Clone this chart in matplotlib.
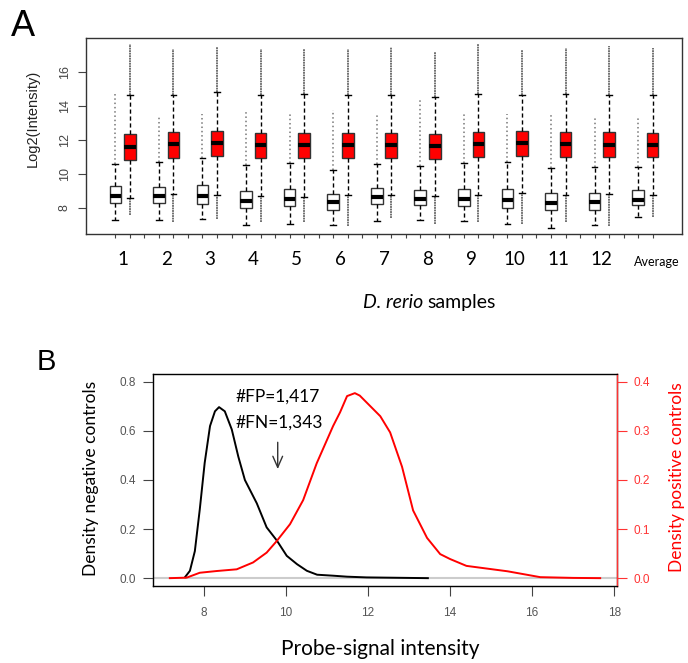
import numpy as np
import matplotlib.pyplot as plt
from matplotlib import transforms

# Panel A: box plot stats (log2 intensity)
samples = ['1', '2', '3', '4', '5', '6', '7', '8', '9', '10', '11', '12', 'Average']

neg_med = [8.71, 8.71, 8.71, 8.43, 8.55, 8.35, 8.65, 8.55, 8.55, 8.49, 8.29, 8.35, 8.49]
neg_q1 = [8.31, 8.27, 8.25, 8.00, 8.10, 7.86, 8.25, 8.16, 8.10, 8.02, 7.86, 7.86, 8.16]
neg_q3 = [9.27, 9.24, 9.37, 8.98, 9.10, 8.84, 9.20, 9.08, 9.14, 9.14, 8.88, 8.88, 9.04]
neg_lo = [7.27, 7.27, 7.37, 7.02, 7.08, 7.02, 7.22, 7.27, 7.22, 7.08, 6.84, 7.02, 7.47]
neg_hi = [10.60, 10.70, 10.96, 10.51, 10.67, 10.22, 10.61, 10.47, 10.67, 10.71, 10.35, 10.41, 10.41]
neg_max = [14.76, 13.40, 13.55, 13.69, 13.59, 13.78, 13.45, 14.39, 13.61, 13.55, 13.51, 13.31, 13.31]

pos_med = [11.59, 11.75, 11.82, 11.73, 11.73, 11.73, 11.73, 11.65, 11.75, 11.82, 11.75, 11.73, 11.73]
pos_q1 = [10.80, 10.96, 11.06, 10.94, 10.94, 10.94, 10.94, 10.86, 11.00, 11.06, 11.00, 11.00, 11.00]
pos_q3 = [12.33, 12.45, 12.51, 12.41, 12.41, 12.41, 12.41, 12.33, 12.45, 12.51, 12.45, 12.45, 12.41]
pos_lo = [8.59, 8.82, 8.78, 8.69, 8.65, 8.75, 8.78, 8.71, 8.78, 8.90, 8.78, 8.84, 8.78]
pos_hi = [14.63, 14.63, 14.82, 14.63, 14.69, 14.63, 14.63, 14.53, 14.69, 14.63, 14.69, 14.63, 14.63]
pos_max = [17.67, 17.37, 17.47, 17.33, 17.37, 17.33, 17.47, 17.18, 17.63, 17.27, 17.43, 17.51, 17.43]
pos_min = [7.57, 7.18, 7.37, 7.18, 7.18, 6.92, 7.43, 7.08, 7.18, 7.08, 7.18, 6.92, 7.47]

# Panel B: density curves
neg_x = [7.54, 7.66, 7.78, 7.90, 8.02, 8.15, 8.27, 8.37, 8.51, 8.68, 8.84, 9.00, 9.29, 9.53,
         9.78, 10.02, 10.27, 10.51, 10.76, 11.15, 11.49, 11.97, 13.46]
neg_y = [0.004, 0.03, 0.11, 0.28, 0.47, 0.62, 0.68, 0.697, 0.68, 0.606, 0.495, 0.40, 0.305, 0.207,
         0.153, 0.091, 0.057, 0.03, 0.014, 0.01, 0.006, 0.003, 0.0]

pos_x = [7.17, 7.58, 7.90, 8.31, 8.80, 9.20, 9.53, 9.77, 10.10, 10.42, 10.75, 11.15, 11.32, 11.49,
         11.68, 11.80, 12.30, 12.54, 12.83, 13.10, 13.44, 13.76, 14.00, 14.40, 15.40, 16.20, 17.00, 17.66]
pos_y = [0.0, 0.001, 0.011, 0.0145, 0.018, 0.032, 0.052, 0.075, 0.11, 0.159, 0.234, 0.31, 0.338, 0.371,
         0.377, 0.372, 0.33, 0.297, 0.227, 0.138, 0.082, 0.049, 0.039, 0.025, 0.014, 0.002, 0.0005, 0.0]

W, H = 688, 663
LABEL_FONT = ['Lato', 'DejaVu Sans']
TICK_FONT = ['Liberation Sans', 'DejaVu Sans']


def fx(px):
    return px / W


def fy(py):
    return 1 - py / H


fig = plt.figure(figsize=(W / 100, H / 100), dpi=100)

# ---------------- Panel A ----------------
axA = fig.add_axes([fx(86), fy(234), fx(682) - fx(86), fy(38) - fy(234)])
neg_pos = [3 * i + 1 for i in range(len(samples))]
pos_pos = [3 * i + 2 for i in range(len(samples))]

neg_stats = [dict(med=m, q1=a, q3=b, whislo=lo, whishi=hi, fliers=[])
             for m, a, b, lo, hi in zip(neg_med, neg_q1, neg_q3, neg_lo, neg_hi)]
pos_stats = [dict(med=m, q1=a, q3=b, whislo=lo, whishi=hi, fliers=[])
             for m, a, b, lo, hi in zip(pos_med, pos_q1, pos_q3, pos_lo, pos_hi)]

# outliers (dense clouds of points in the original)
axA.vlines(neg_pos, neg_hi, neg_max, colors='#777777', linestyles=(0, (1, 1.8)), lw=1.1, zorder=1)
axA.vlines(pos_pos, pos_hi, pos_max, colors='#666666', linestyles=(0, (1, 0.4)), lw=1.3, zorder=1)
axA.vlines(pos_pos, pos_min, pos_lo, colors='#666666', linestyles=(0, (1, 0.4)), lw=1.3, zorder=1)

common = dict(widths=0.8, patch_artist=True, showfliers=False,
              medianprops=dict(color='black', lw=3, solid_capstyle='butt'),
              whiskerprops=dict(color='black', ls=(0, (3, 2)), lw=1),
              capprops=dict(color='black', lw=1))
axA.bxp(neg_stats, positions=neg_pos, boxprops=dict(facecolor='white', edgecolor='#333333', lw=1), **common)
axA.bxp(pos_stats, positions=pos_pos, boxprops=dict(facecolor='#ff0000', edgecolor='#333333', lw=1), **common)

axA.set_xlim(-1.02, 40.02)
axA.set_ylim(6.47, 18.0)
axA.set_xticks(range(1, 39))
axA.set_xticklabels([])
axA.set_yticks([8, 10, 12, 14, 16])
axA.set_yticklabels(['8', '10', '12', '14', '16'], rotation=90, va='center',
                    family=TICK_FONT, fontsize=9, color='#444444')
axA.tick_params(axis='x', direction='out', length=3, width=0.8, color='#444444')
axA.tick_params(axis='y', direction='out', length=6, width=0.8, color='#444444', pad=5)
for s in axA.spines.values():
    s.set_color('#333333')
    s.set_linewidth(1)

tr = transforms.blended_transform_factory(axA.transData, fig.transFigure)
for i, lab in enumerate(samples):
    cx = (neg_pos[i] + pos_pos[i]) / 2
    if lab == 'Average':
        axA.text(cx + 0.8, fy(266), lab, transform=tr, ha='center', va='baseline',
                 family=LABEL_FONT, fontsize=9)
    else:
        axA.text(cx, fy(265), lab, transform=tr, ha='center', va='baseline',
                 family=LABEL_FONT, fontsize=13.5)

fig.text(fx(33), fy(118), 'Log2(Intensity)', rotation=90, ha='center', va='center',
         family=TICK_FONT, fontsize=10.5, color='#222222')
fig.text(fx(423), fy(308), 'D. rerio', ha='right', va='baseline', style='italic',
         family=LABEL_FONT, fontsize=14)
fig.text(fx(427), fy(308), 'samples', ha='left', va='baseline',
         family=LABEL_FONT, fontsize=14)
fig.text(fx(23), fy(26), 'A', ha='center', va='center', family=TICK_FONT, fontsize=26)

# ---------------- Panel B ----------------
axB = fig.add_axes([fx(153), fy(586), fx(617) - fx(153), fy(374) - fy(586)])
axB.axhline(0, color='#cccccc', lw=1.5, zorder=0)
axB.plot(neg_x, neg_y, color='black', lw=1.4)
axB.set_xlim(6.76, 18.07)
axB.set_ylim(-0.032, 0.832)
axB.set_xticks([8, 10, 12, 14, 16, 18])
axB.set_xticklabels(['8', '10', '12', '14', '16', '18'], family=TICK_FONT, fontsize=8.5, color='#555555')
axB.set_yticks([0, 0.2, 0.4, 0.6, 0.8])
axB.set_yticklabels(['0.0', '0.2', '0.4', '0.6', '0.8'], family=TICK_FONT, fontsize=8.5, color='#555555')
axB.tick_params(axis='x', direction='out', length=7, width=0.8, color='#444444', pad=8)
axB.tick_params(axis='y', direction='out', length=7, width=0.8, color='#444444', pad=5)
for s in axB.spines.values():
    s.set_color('#333333')
    s.set_linewidth(1)

axR = axB.twinx()
axR.plot(pos_x, pos_y, color='#ff0000', lw=1.4)
axR.set_ylim(-0.016, 0.416)
axR.set_yticks([0, 0.1, 0.2, 0.3, 0.4])
axR.set_yticklabels(['0.0', '0.1', '0.2', '0.3', '0.4'], family=TICK_FONT, fontsize=8.5, color='#ff3333')
axR.tick_params(axis='y', direction='out', length=7, width=0.8, color='#ff3333', pad=5)
axR.spines['right'].set_color('#ff3333')
axR.spines['right'].set_linewidth(1)

axB.text(8.76, 0.738, '#FP=1,417', ha='left', va='center', family=LABEL_FONT, fontsize=12.5)
axB.text(8.76, 0.635, '#FN=1,343', ha='left', va='center', family=LABEL_FONT, fontsize=12.5)
axB.annotate('', xy=(9.8, 0.433), xytext=(9.8, 0.565),
             arrowprops=dict(arrowstyle='->,head_length=0.8,head_width=0.35', color='#333333', lw=1))

fig.text(fx(91), fy(478), 'Density negative controls', rotation=90, ha='center', va='center',
         family=LABEL_FONT, fontsize=12.5)
fig.text(fx(677), fy(477), 'Density positive controls', rotation=90, ha='center', va='center',
         family=LABEL_FONT, fontsize=12.5, color='#ff0000')
fig.text(fx(380), fy(655), 'Probe-signal intensity', ha='center', va='baseline',
         family=LABEL_FONT, fontsize=15)
fig.text(fx(46), fy(362), 'B', ha='center', va='center', family=TICK_FONT, fontsize=21)

fig.savefig('out.png', dpi=100)
